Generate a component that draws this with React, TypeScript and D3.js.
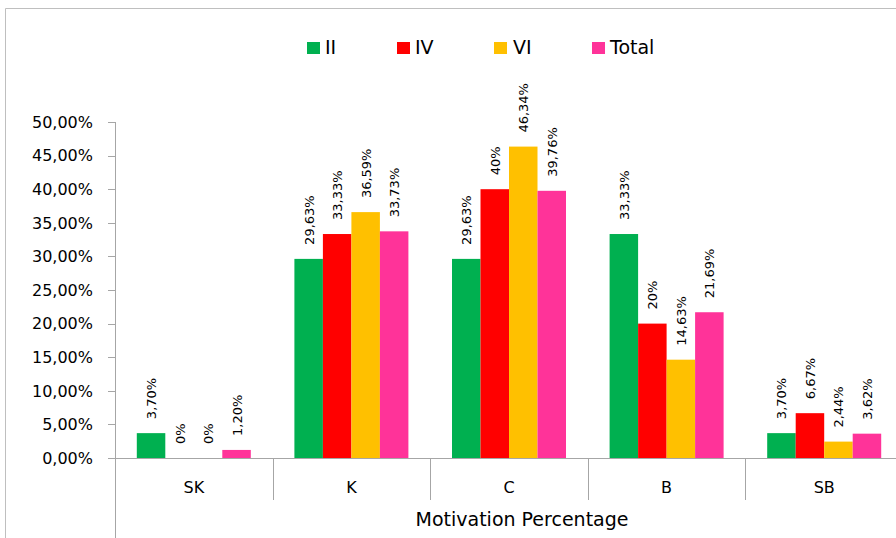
import React from "react";
import * as d3 from "d3";

const categories = ["SK", "K", "C", "B", "SB"];
const seriesNames = ["II", "IV", "VI", "Total"];
const seriesColors = ["#00B050", "#FF0000", "#FFC000", "#FF3399"];
const valuesII = [3.7, 29.63, 29.63, 33.33, 3.7];
const valuesIV = [0, 33.33, 40, 20, 6.67];
const valuesVI = [0, 36.59, 46.34, 14.63, 2.44];
const valuesTotal = [1.2, 33.73, 39.76, 21.69, 3.62];
const labelsII = ["3,70%", "29,63%", "29,63%", "33,33%", "3,70%"];
const labelsIV = ["0%", "33,33%", "40%", "20%", "6,67%"];
const labelsVI = ["0%", "36,59%", "46,34%", "14,63%", "2,44%"];
const labelsTotal = ["1,20%", "33,73%", "39,76%", "21,69%", "3,62%"];
const yTicks = [0, 5, 10, 15, 20, 25, 30, 35, 40, 45, 50];
const yTickLabels = ["0,00%", "5,00%", "10,00%", "15,00%", "20,00%", "25,00%", "30,00%", "35,00%", "40,00%", "45,00%", "50,00%"];
const xTitle = "Motivation Percentage";

const series = [valuesII, valuesIV, valuesVI, valuesTotal];
const labels = [labelsII, labelsIV, labelsVI, labelsTotal];

export default function App() {
  const W = 896, H = 538;
  const x0 = 115, x1 = 903;
  const yBase = 458, yTop = 122;
  const font = "'DejaVu Sans', Verdana, sans-serif";
  const x = d3.scaleBand<string>().domain(categories).range([x0, x1]).paddingInner(0).paddingOuter(0);
  const y = d3.scaleLinear().domain([0, 50]).range([yBase, yTop]);
  const bw = x.bandwidth();
  const barW = 28.5;
  const groupW = barW * 4;
  const axisColor = "#A6A6A6";

  const legendSq = [307, 397, 494, 592];
  const legendTx = [325, 415, 513, 610];

  return (
    <svg width={W} height={H} style={{ position: "absolute", left: 0, top: 0 }} fontFamily={font}>
      <rect x={0} y={0} width={W} height={H} fill="#fff" />
      <line x1={5.5} y1={8.5} x2={W} y2={8.5} stroke="#BFBFBF" strokeWidth={1} />
      <line x1={5.5} y1={8.5} x2={5.5} y2={H} stroke="#BFBFBF" strokeWidth={1} />

      {seriesNames.map((s, i) => (
        <g key={s}>
          <rect x={legendSq[i]} y={42} width={13} height={12} fill={seriesColors[i]} />
          <text x={legendTx[i]} y={54} fontSize={19} fill="#000">{s}</text>
        </g>
      ))}

      <line x1={x0 + 0.5} y1={yTop} x2={x0 + 0.5} y2={H} stroke={axisColor} />
      {yTicks.map((t, i) => (
        <g key={t}>
          <line x1={x0 - 7} x2={x0} y1={Math.round(y(t)) + 0.5} y2={Math.round(y(t)) + 0.5} stroke={axisColor} />
          <text x={93} y={y(t)} dy="0.36em" textAnchor="end" fontSize={16} fill="#000">{yTickLabels[i]}</text>
        </g>
      ))}

      {categories.map((c, ci) => {
        const start = (x(c) as number) + (bw - groupW) / 2;
        return (
          <g key={c}>
            {series.map((vals, si) => {
              const bx = start + si * barW;
              const by = y(vals[ci]);
              return (
                <g key={si}>
                  {vals[ci] > 0 && (
                    <rect x={bx} y={by} width={barW} height={yBase - by} fill={seriesColors[si]} />
                  )}
                  <text
                    transform={`translate(${bx + barW / 2 + 5},${by - 14}) rotate(-90)`}
                    fontSize={13}
                    fill="#000"
                  >
                    {labels[si][ci]}
                  </text>
                </g>
              );
            })}
          </g>
        );
      })}

      <line x1={x0 - 7} x2={W} y1={yBase + 0.5} y2={yBase + 0.5} stroke={axisColor} />
      {categories.map((c, ci) => (
        <g key={c}>
          {ci > 0 && (
            <line x1={Math.round(x(c) as number) + 0.5} x2={Math.round(x(c) as number) + 0.5} y1={yBase} y2={500} stroke={axisColor} />
          )}
          <text x={(x(c) as number) + bw / 2} y={493} textAnchor="middle" fontSize={16} fill="#000">{c}</text>
        </g>
      ))}
      <text x={522} y={526} textAnchor="middle" fontSize={19} fill="#000">{xTitle}</text>
    </svg>
  );
}
